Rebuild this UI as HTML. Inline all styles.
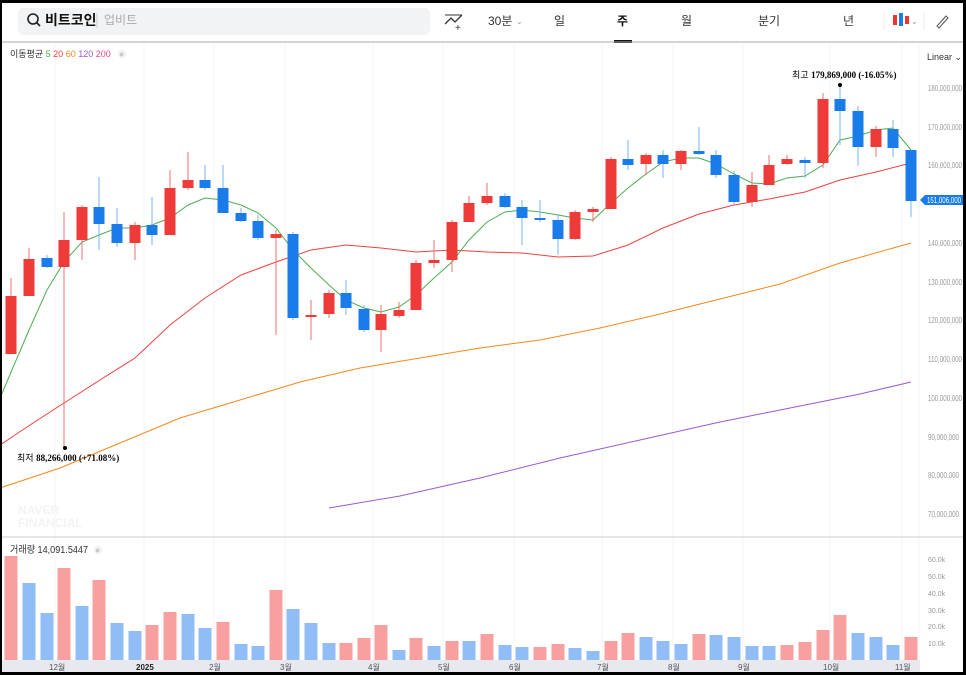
<!DOCTYPE html><html><head><meta charset="utf-8"><style>
body{margin:0;background:#000;}
#w{position:absolute;left:2px;top:3px;width:961px;height:669px;background:#fff;overflow:hidden;font-family:"Liberation Sans","Noto Sans CJK KR",sans-serif;}
</style></head><body><div id="w">
<svg width="966" height="675" viewBox="2 3 966 675" style="position:absolute;left:0;top:0" font-family="Liberation Sans, Noto Sans CJK KR, sans-serif">
<rect x="18" y="8" width="412" height="27" rx="5" fill="#f2f3f5"/>
<circle cx="33" cy="19" r="5" fill="none" stroke="#222" stroke-width="1.6"/><line x1="36.5" y1="22.5" x2="40" y2="26" stroke="#222" stroke-width="1.6"/>
<text x="45" y="25" font-size="14" font-weight="bold" fill="#111">비트코인</text>
<line x1="97" y1="13" x2="97" y2="28" stroke="#ccc"/>
<text x="104" y="24" font-size="12" fill="#aaa">업비트</text>
<polyline points="445,24 451,18 455,22 462,15" fill="none" stroke="#333" stroke-width="1.3"/><line x1="445" y1="15" x2="462" y2="15" stroke="#333"/><text x="455" y="31" font-size="10" fill="#333">+</text>
<text x="488" y="25" font-size="12" fill="#333">30분</text><text x="516" y="24" font-size="8" fill="#999">⌄</text>
<text x="554" y="25" font-size="12" fill="#333">일</text>
<text x="617" y="25" font-size="12" fill="#111" font-weight="bold">주</text>
<rect x="614" y="40" width="18" height="3" fill="#111"/>
<text x="681" y="25" font-size="12" fill="#333">월</text>
<text x="758" y="25" font-size="12" fill="#333">분기</text>
<text x="843" y="25" font-size="12" fill="#333">년</text>
<line x1="884" y1="12" x2="884" y2="30" stroke="#eee"/>
<rect x="893" y="15" width="4" height="10" fill="#e33"/><rect x="899" y="13" width="4" height="13" fill="#1a7ce8"/><rect x="905" y="16" width="4" height="8" fill="#e33"/>
<text x="911" y="24" font-size="8" fill="#999">⌄</text>
<line x1="924" y1="12" x2="924" y2="30" stroke="#eee"/>
<path d="M937 26 L946 16 L948 18 L939 28 Z" fill="none" stroke="#555"/>
<line x1="2" y1="42" x2="966" y2="42" stroke="#aaa"/>
<g stroke="#f6f6f6"><line x1="55" y1="43" x2="55" y2="660"/><line x1="144" y1="43" x2="144" y2="660"/><line x1="214" y1="43" x2="214" y2="660"/><line x1="285" y1="43" x2="285" y2="660"/><line x1="373" y1="43" x2="373" y2="660"/><line x1="443" y1="43" x2="443" y2="660"/><line x1="514" y1="43" x2="514" y2="660"/><line x1="602" y1="43" x2="602" y2="660"/><line x1="673" y1="43" x2="673" y2="660"/><line x1="743" y1="43" x2="743" y2="660"/><line x1="830" y1="43" x2="830" y2="660"/><line x1="902" y1="43" x2="902" y2="660"/><line x1="919" y1="43" x2="919" y2="660"/></g>
<text x="10" y="57" font-size="9" fill="#333">이동평균 <tspan fill="#4caf50">5</tspan> <tspan fill="#f04040">20</tspan> <tspan fill="#f5891f">60</tspan> <tspan fill="#9b59d0">120</tspan> <tspan fill="#e84a8a">200</tspan></text>
<circle cx="122" cy="54" r="4" fill="#eee"/><text x="119.5" y="57" font-size="7" fill="#999">×</text>
<text x="927" y="60" font-size="9" fill="#333">Linear ⌄</text>
<g font-size="8" fill="#999">
<text x="928" y="91" textLength="34" lengthAdjust="spacingAndGlyphs">180,000,000</text><text x="928" y="130" textLength="34" lengthAdjust="spacingAndGlyphs">170,000,000</text><text x="928" y="168" textLength="34" lengthAdjust="spacingAndGlyphs">160,000,000</text><text x="928" y="246" textLength="34" lengthAdjust="spacingAndGlyphs">140,000,000</text><text x="928" y="285" textLength="34" lengthAdjust="spacingAndGlyphs">130,000,000</text><text x="928" y="323" textLength="34" lengthAdjust="spacingAndGlyphs">120,000,000</text><text x="928" y="362" textLength="34" lengthAdjust="spacingAndGlyphs">110,000,000</text><text x="928" y="401" textLength="34" lengthAdjust="spacingAndGlyphs">100,000,000</text><text x="928" y="440" textLength="31" lengthAdjust="spacingAndGlyphs">90,000,000</text><text x="928" y="478" textLength="31" lengthAdjust="spacingAndGlyphs">80,000,000</text><text x="928" y="517" textLength="31" lengthAdjust="spacingAndGlyphs">70,000,000</text>
</g>
<path d="M920 200 L925 195 L966 195 L966 205 L925 205 Z" fill="#1a7ce8"/><text x="927" y="203" font-size="8" fill="#fff" textLength="34" lengthAdjust="spacingAndGlyphs">151,006,000</text>
<text x="18" y="514" font-size="12" font-weight="bold" fill="#f3f3f3">NAVER</text>
<text x="18" y="527" font-size="12" font-weight="bold" fill="#f3f3f3">FINANCIAL</text>
<g fill="none" stroke-width="1">
<polyline stroke="#9b59d0" points="329,508 400,496 480,478 560,458 640,440 720,422 800,406 860,394 911,382"/>
<polyline stroke="#f5891f" points="0,488 60,468 120,443 180,418 240,400 300,382 360,368 420,358 480,348 540,340 600,328 660,314 720,299 780,284 840,263 911,243"/>
<polyline stroke="#f04040" points="0,445 30,425 64,403 100,380 135,358 170,325 205,298 241,275 276,262 311,250 346,245 381,248 416,252 452,250 487,252 522,253 558,257 593,256 628,245 663,228 699,214 734,205 769,199 805,192 840,180 876,172 911,163"/>
<polyline stroke="#4caf50" points="0,398 29,330 47,290 64,262 82,242 99,235 117,228 135,228 152,225 170,218 188,205 205,198 223,200 241,205 258,213 276,228 293,250 311,268 329,285 346,300 364,308 381,312 399,307 416,295 434,278 452,262 469,240 487,222 505,212 522,210 540,212 558,215 575,218 593,220 611,203 628,188 646,174 663,162 681,158 699,158 716,164 734,174 752,183 769,184 787,178 805,176 823,165 840,140 858,136 876,130 893,128 911,150"/>
</g>
<g id="c"></g>
<circle cx="65" cy="448" r="2" fill="#000"/><text x="17" y="461" font-size="9" fill="#000">최저 <tspan font-family="Liberation Serif" font-weight="bold">88,266,000 (+71.08%)</tspan></text>
<circle cx="840" cy="85" r="2" fill="#000"/><text x="792" y="78" font-size="9" fill="#000">최고 <tspan font-family="Liberation Serif" font-weight="bold">179,869,000 (-16.05%)</tspan></text>
<line x1="2" y1="537" x2="966" y2="537" stroke="#ccc"/>
<text x="10" y="553" font-size="10" fill="#333" textLength="78" lengthAdjust="spacingAndGlyphs">거래량 14,091.5447</text><circle cx="98" cy="550" r="4" fill="#eee"/><text x="95.5" y="553" font-size="7" fill="#999">×</text>
<g font-size="7" fill="#999"><text x="928" y="562">60.0k</text><text x="928" y="579">50.0k</text><text x="928" y="596">40.0k</text><text x="928" y="613">30.0k</text><text x="928" y="629">20.0k</text><text x="928" y="646">10.0k</text></g>
<g id="v"></g>
<rect x="2" y="660" width="918" height="14" fill="#e8e9ee"/>
<g font-size="8" fill="#555"><text x="49" y="670">12월</text><text x="136" y="670" font-weight="bold" fill="#222">2025</text><text x="209" y="670">2월</text><text x="280" y="670">3월</text><text x="368" y="670">4월</text><text x="438" y="670">5월</text><text x="509" y="670">6월</text><text x="597" y="670">7월</text><text x="668" y="670">8월</text><text x="738" y="670">9월</text><text x="823" y="670">10월</text><text x="895" y="670">11월</text></g>
</svg>
<script>
var C=[[11,'r',296,354,278,354],[29,'r',259,296,248,296],[47,'b',258,267,255,268],[64,'r',240,267,212,448],[82,'r',207,240,205,260],[99,'b',207,224,177,250],[117,'b',224,243,208,247],[135,'r',225,243,222,260],[152,'b',225,235,197,245],[170,'r',188,235,170,235],[188,'r',180,188,152,190],[205,'b',180,188,165,190],[223,'b',188,213,165,213],[241,'b',213,221,208,222],[258,'b',221,238,215,240],[276,'r',234,238,230,335],[293,'b',234,318,232,320],[311,'r',315,317,300,340],[329,'r',293,314,290,318],[346,'b',293,308,280,315],[364,'b',309,330,305,332],[381,'r',314,330,305,352],[399,'r',310,316,302,318],[416,'r',263,310,260,310],[434,'r',260,263,240,268],[452,'r',222,260,220,272],[469,'r',203,222,196,222],[487,'r',196,203,183,205],[505,'b',196,207,193,208],[522,'b',207,218,200,245],[540,'b',218,220,200,222],[558,'b',220,239,214,255],[575,'r',212,239,210,240],[593,'r',209,212,207,222],[611,'r',159,209,157,209],[628,'b',159,165,140,170],[646,'r',155,164,153,175],[663,'b',155,164,150,178],[681,'r',151,164,150,170],[699,'b',151,154,127,155],[716,'b',155,175,150,178],[734,'b',175,202,171,204],[752,'r',185,202,172,207],[769,'r',165,185,155,185],[787,'r',159,164,155,165],[805,'b',160,163,157,178],[823,'r',99,163,93,168],[840,'b',99,111,85,145],[858,'b',111,147,106,166],[876,'r',129,147,126,157],[893,'b',129,148,120,157],[911,'b',150,201,150,217]];
var V=[['r',556],['b',583],['b',613],['r',568],['b',606],['r',580],['b',623],['b',631],['r',625],['r',612],['b',614],['b',628],['r',622],['b',644],['b',646],['r',590],['b',609],['b',623],['b',643],['r',643],['r',638],['r',625],['b',650],['r',638],['b',646],['r',641],['b',641],['r',634],['b',645],['b',647],['r',647],['r',644],['b',648],['b',651],['r',641],['r',633],['b',637],['b',641],['b',644],['r',634],['b',635],['b',637],['b',646],['b',646],['r',645],['r',642],['r',630],['r',615],['b',633],['b',637],['b',645],['r',637]];
var s='';
C.forEach(function(c){var col=c[1]=='r'?'#ef3a3a':'#1a7ce8';var wc=c[1]=='r'?'#f07070':'#7ab6f0';s+='<line x1="'+c[0]+'" x2="'+c[0]+'" y1="'+c[4]+'" y2="'+c[5]+'" stroke="'+wc+'"/><rect x="'+(c[0]-5.5)+'" y="'+c[2]+'" width="11" height="'+Math.max(1.5,c[3]-c[2])+'" fill="'+col+'"/>';});
document.getElementById('c').innerHTML=s;s='';
V.forEach(function(v,i){var x=C[i][0];s+='<rect x="'+(x-6.5)+'" y="'+v[1]+'" width="13" height="'+(660-v[1])+'" fill="'+(v[0]=='r'?'#f8a0a0':'#90bdf5')+'"/>';});
document.getElementById('v').innerHTML=s;
</script>
</div></body></html>
